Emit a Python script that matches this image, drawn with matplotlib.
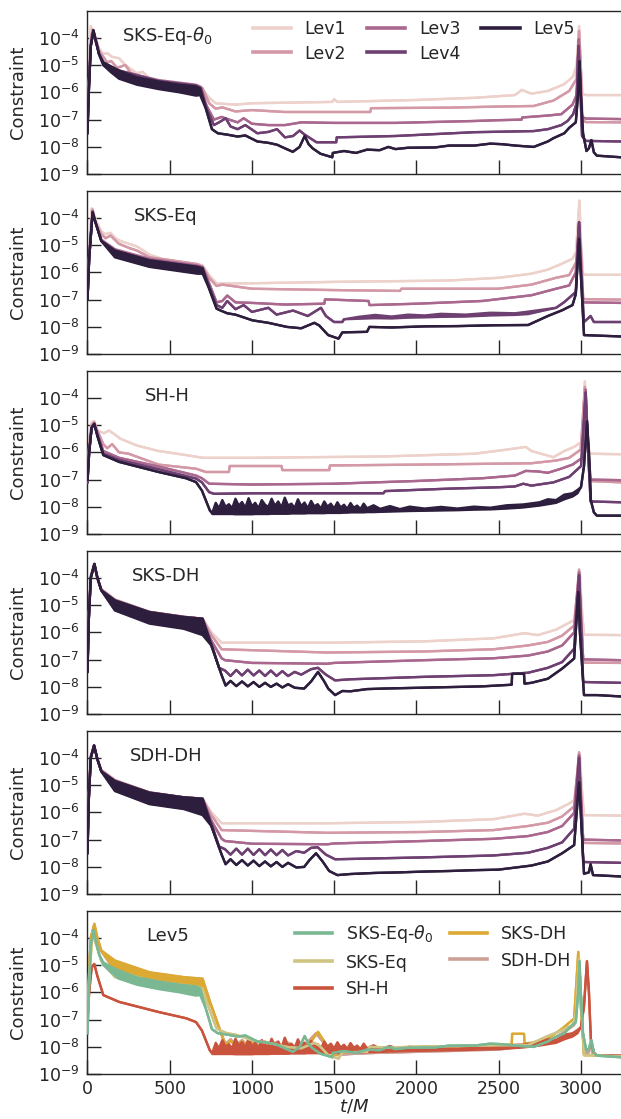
import numpy as np
import matplotlib
matplotlib.use("Agg")
import matplotlib.pyplot as plt
from matplotlib.ticker import LogFormatterMathtext, NullLocator, FixedLocator
import seaborn as sns

# ---------------------------------------------------------------------------
# Data: constraint norm vs. time, stored as (t/M, log10 C) knots.
# A third entry gives the lower edge of a rapidly oscillating / noisy band.
# ---------------------------------------------------------------------------
LEVELS = ["Lev1", "Lev2", "Lev3", "Lev4", "Lev5"]
SCHEMES = ["SKS-Eq-$\\theta_0$", "SKS-Eq", "SH-H", "SKS-DH", "SDH-DH"]
SCHEME_COLORS = ["#7ab894", "#cfc484", "#c9533c", "#dcaa33", "#cda097"]
X_TICKS = [0, 500, 1000, 1500, 2000, 2500, 3000]
Y_TICKS = [1e-9, 1e-8, 1e-7, 1e-6, 1e-5, 1e-4]

# --- SKS-Eq-theta0 ---------------------------------------------------------
sks_eq_theta0_lev1 = [(0, -7.0), (8, -5.6), (19, -3.57), (35, -3.8), (50, -4.2), (72, -4.4), (96, -4.6),
                      (120, -4.56), (150, -4.7), (192, -4.75), (230, -5.0), (264, -5.15), (300, -5.3),
                      (336, -5.25), (384, -5.55), (432, -5.6), (500, -5.7), (660, -5.8), (700, -5.9),
                      (740, -6.2), (780, -6.4), (900, -6.45), (1000, -6.4), (1490, -6.35), (1500, -6.25),
                      (1520, -6.35), (2000, -6.28), (2354, -6.2), (2600, -6.1), (2642, -5.91), (2700, -6.05),
                      (2800, -5.95), (2900, -5.7), (2954, -5.42), (2975, -5.0), (2990, -3.57), (3000, -5.0),
                      (3010, -6.05), (3030, -6.1), (3245, -6.1)]
sks_eq_theta0_lev2 = [(0, -7.2), (8, -5.7), (20, -4.2), (30, -3.7), (50, -4.0), (72, -4.5), (96, -4.7),
                      (120, -4.9), (144, -4.85), (180, -5.1), (230, -5.0), (264, -5.3), (336, -5.45),
                      (384, -5.6), (432, -5.6), (660, -5.75), (700, -5.85), (740, -6.4), (780, -6.6),
                      (820, -6.55), (900, -6.7), (1000, -6.65), (1200, -6.72), (1720, -6.72), (1725, -6.58),
                      (2200, -6.56), (2500, -6.52), (2714, -6.5), (2834, -6.3), (2930, -5.95), (2975, -5.5),
                      (2990, -3.75), (3000, -5.0), (3010, -7.0), (3030, -7.09), (3245, -7.1)]
sks_eq_theta0_lev3 = [(0, -7.3), (8, -5.8), (20, -4.3), (30, -3.8), (50, -4.1), (70, -4.55), (96, -4.9),
                      (192, -5.2, -5.4), (432, -5.55, -5.8), (660, -5.72, -5.95), (690, -5.8, -6.0),
                      (725, -6.5), (769, -7.0), (817, -6.9), (841, -6.96), (913, -7.1), (950, -6.95),
                      (1000, -7.15), (1100, -7.2), (1201, -7.2), (1300, -7.1), (1500, -7.12), (1873, -7.12),
                      (2354, -7.05), (2500, -7.02), (2640, -7.0), (2645, -6.92), (2800, -6.85), (2882, -6.8),
                      (2950, -6.45), (2975, -6.1), (2988, -4.06), (2998, -5.5), (3008, -6.9), (3030, -6.96),
                      (3245, -6.98)]
sks_eq_theta0_lev4 = [(0, -7.4), (8, -5.9), (20, -4.3), (36, -3.75), (50, -4.1), (70, -4.6),
                      (96, -4.9, -5.0), (192, -5.2, -5.45), (432, -5.58, -5.85), (660, -5.75, -6.05),
                      (690, -5.85, -6.05), (725, -6.6), (769, -7.2), (800, -7.1), (841, -6.95), (870, -7.25),
                      (913, -7.35), (960, -7.2), (1033, -7.5), (1100, -7.45), (1153, -7.35), (1201, -7.65),
                      (1250, -7.6), (1290, -7.4), (1321, -7.55), (1393, -7.83), (1513, -7.83), (1516, -7.65),
                      (1873, -7.6), (2354, -7.46), (2714, -7.42), (2800, -7.35), (2882, -7.2), (2920, -7.05),
                      (2954, -6.8), (2975, -6.4), (2986, -4.3), (2995, -5.5), (3008, -7.6), (3030, -7.78),
                      (3245, -7.8)]
sks_eq_theta0_lev5 = [(0, -7.5), (8, -6.0), (20, -4.3), (36, -3.72), (50, -4.1), (70, -4.6), (96, -4.9, -5.0),
                      (140, -5.05, -5.25), (192, -5.2, -5.5), (300, -5.45, -5.72), (432, -5.6, -5.88),
                      (560, -5.72, -6.0), (660, -5.78, -6.12), (685, -5.85, -6.1), (720, -6.6), (757, -7.35),
                      (793, -7.5), (850, -7.55), (913, -7.62), (960, -7.58), (1033, -7.8), (1100, -7.85),
                      (1153, -7.92), (1200, -8.05), (1249, -8.18), (1290, -8.0), (1321, -7.6), (1345, -7.9),
                      (1369, -8.05), (1417, -8.25), (1489, -8.38), (1492, -8.22), (1560, -8.15), (1633, -8.22),
                      (1700, -8.1), (1777, -8.12), (1830, -8.0), (1873, -8.08), (1950, -8.03), (2114, -8.02),
                      (2200, -7.95), (2354, -7.95), (2450, -7.88), (2522, -7.9), (2600, -7.95), (2714, -8.0),
                      (2800, -7.8), (2834, -7.68), (2900, -7.5), (2930, -7.3), (2970, -7.1), (2985, -6.0),
                      (2993, -4.86), (3000, -6.0), (3014, -7.5), (3035, -8.15), (3050, -8.05), (3065, -7.75),
                      (3080, -8.2), (3098, -8.32), (3245, -8.38)]

# --- SKS-Eq ------------------------------------------------------------------
sks_eq_lev1 = [(0, -6.8), (10, -5.3), (25, -3.65), (45, -4.0), (84, -4.5), (110, -4.6), (140, -4.55),
               (170, -4.75), (200, -4.85), (250, -4.95), (300, -5.05), (340, -5.2), (377, -5.35), (450, -5.5),
               (669, -5.7), (700, -5.75), (740, -6.1), (785, -6.41), (1000, -6.4), (1500, -6.35),
               (2200, -6.3), (2500, -6.2), (2700, -6.05), (2800, -5.9), (2887, -5.68), (2950, -5.5),
               (2971, -5.26), (2992, -3.37), (3002, -5.0), (3015, -6.09), (3245, -6.09)]
sks_eq_lev2 = [(0, -6.9), (10, -5.4), (31, -3.7), (50, -4.2), (84, -4.6), (110, -4.75), (140, -4.65),
               (190, -4.95), (250, -5.1), (300, -5.2), (377, -5.45), (669, -5.7), (700, -5.8), (740, -6.2),
               (785, -6.5), (820, -6.45), (1000, -6.6), (1500, -6.65), (1900, -6.68), (1910, -6.6),
               (2500, -6.6), (2700, -6.45), (2850, -6.2), (2930, -6.1), (2975, -5.6), (2990, -4.16),
               (3000, -5.0), (3015, -6.98), (3245, -7.0)]
sks_eq_lev3 = [(0, -7.0), (10, -5.5), (31, -3.75), (45, -4.1), (84, -4.8), (167, -5.15, -5.38),
               (377, -5.5, -5.75), (669, -5.75, -5.98), (700, -5.8), (740, -6.4), (785, -7.1), (820, -7.05),
               (850, -6.85), (900, -7.1), (1000, -7.12), (1200, -7.18), (1440, -7.15), (1445, -6.99),
               (1710, -7.05), (1715, -7.2), (2000, -7.15), (2400, -7.05), (2700, -6.84), (2850, -6.6),
               (2930, -6.48), (2970, -6.0), (2990, -4.16), (3000, -5.5), (3015, -7.1), (3245, -7.12)]
sks_eq_lev4 = [(0, -7.0), (10, -5.5), (31, -3.8), (45, -4.1), (84, -4.85), (167, -5.2, -5.42),
               (377, -5.55, -5.78), (669, -5.78, -6.0), (700, -5.85, -6.0), (740, -6.5), (785, -7.2),
               (820, -7.3), (850, -7.05), (900, -7.35), (950, -7.2), (1000, -7.45), (1100, -7.3),
               (1150, -7.55), (1250, -7.4), (1340, -7.6), (1420, -7.3), (1450, -7.6), (1500, -7.82),
               (1550, -7.82), (1560, -7.72), (1650, -7.63, -7.7), (1750, -7.56, -7.68), (1850, -7.62, -7.69),
               (1950, -7.55, -7.66), (2050, -7.58, -7.65), (2150, -7.52, -7.63), (2300, -7.55, -7.62),
               (2450, -7.48, -7.58), (2600, -7.5, -7.56), (2680, -7.44, -7.53), (2850, -7.3), (2900, -7.09),
               (2970, -6.72), (2990, -4.16), (3000, -5.8), (3020, -7.82), (3060, -7.6), (3080, -7.82),
               (3245, -7.82)]
sks_eq_lev5 = [(0, -7.0), (10, -5.5), (31, -3.8), (45, -4.1), (84, -4.85), (167, -5.2, -5.45),
               (377, -5.56, -5.8), (669, -5.8, -6.05), (700, -5.85, -6.05), (740, -6.6), (785, -7.33),
               (810, -7.4), (850, -7.5), (900, -7.55), (1004, -7.76), (1100, -7.85), (1213, -8.0),
               (1300, -8.05), (1380, -7.85), (1410, -7.95), (1464, -8.3), (1527, -8.43), (1550, -8.2),
               (1700, -8.18), (1715, -8.0), (1850, -8.02), (2050, -7.98), (2250, -7.97), (2470, -7.94),
               (2680, -7.93), (2800, -7.6), (2887, -7.39), (2950, -7.2), (2970, -6.8), (2990, -4.77),
               (3000, -6.0), (3020, -8.3), (3245, -8.35)]

# --- SH-H ----------------------------------------------------------------------
sh_h_lev1 = [(0, -6.8), (10, -5.6), (25, -4.9), (41, -4.85), (60, -5.2), (100, -5.3), (130, -5.2),
             (168, -5.35), (200, -5.5), (240, -5.6), (300, -5.75), (432, -5.95), (600, -6.1), (700, -6.2),
             (1000, -6.2), (1800, -6.15), (2354, -6.05), (2550, -5.9), (2666, -5.8), (2700, -5.95),
             (2834, -6.18), (2900, -5.95), (2960, -5.8), (3010, -5.6), (3025, -3.4), (3040, -5.5),
             (3055, -6.05), (3245, -6.07)]
sh_h_lev2 = [(0, -6.9), (10, -5.8), (25, -5.0), (41, -4.9), (60, -5.2), (96, -5.7), (120, -5.85),
             (150, -5.7), (192, -6.0), (250, -6.05), (432, -6.45), (660, -6.6), (720, -6.72), (860, -6.72),
             (865, -6.5), (1180, -6.5), (1185, -6.65), (1470, -6.65), (1475, -6.48), (2000, -6.45),
             (2700, -6.4), (2850, -6.3), (2930, -6.2), (3000, -5.9), (3025, -3.6), (3040, -5.5),
             (3055, -7.05), (3245, -7.1)]
sh_h_lev3 = [(0, -7.1), (10, -6.0), (25, -5.1), (41, -4.95), (60, -5.3), (96, -5.95), (192, -6.2),
             (432, -6.52), (660, -6.85), (696, -6.95), (740, -7.15), (1000, -7.18), (1500, -7.15),
             (2000, -7.05), (2400, -6.95), (2600, -6.85), (2666, -6.68), (2740, -6.7), (2800, -6.75),
             (2880, -6.6), (2950, -6.45), (3010, -6.2), (3030, -3.7), (3045, -5.8), (3060, -7.0),
             (3245, -7.02)]
sh_h_lev4 = [(0, -7.1), (10, -6.0), (25, -5.1), (41, -4.95), (60, -5.35), (96, -6.05), (192, -6.28),
             (432, -6.62), (660, -6.96), (696, -7.1), (740, -7.46), (770, -7.52), (1000, -7.5),
             (1800, -7.5), (1810, -7.42), (2200, -7.33), (2500, -7.28), (2600, -7.25), (2650, -7.15),
             (2700, -7.22), (2834, -7.1), (2930, -6.9), (3002, -6.5), (3030, -3.81), (3045, -6.0),
             (3060, -7.8), (3245, -7.83)]
sh_h_lev5 = [(0, -7.0), (10, -6.0), (25, -5.1), (41, -4.96), (60, -5.4), (96, -6.1), (192, -6.35),
             (432, -6.72), (600, -6.95), (660, -7.09), (696, -7.4), (745, -8.14), (760, -8.2, -8.26),
             (780, -7.85, -8.26), (800, -8.05, -8.26), (820, -7.75, -8.26), (840, -8.0, -8.26),
             (860, -7.9, -8.26), (880, -8.05, -8.26), (900, -7.7, -8.27), (920, -7.95, -8.27),
             (940, -7.82, -8.27), (960, -8.03, -8.27), (980, -7.68, -8.27), (1000, -7.98, -8.27),
             (1020, -7.85, -8.26), (1040, -8.05, -8.26), (1060, -7.75, -8.26), (1080, -7.92, -8.26),
             (1100, -8.0, -8.26), (1120, -7.7, -8.25), (1140, -7.96, -8.25), (1160, -7.8, -8.25),
             (1180, -8.02, -8.25), (1200, -7.66, -8.25), (1220, -7.95, -8.25), (1240, -7.88, -8.24),
             (1260, -8.04, -8.24), (1280, -7.72, -8.24), (1300, -7.97, -8.24), (1320, -7.84, -8.24),
             (1340, -8.05, -8.23), (1360, -7.78, -8.23), (1380, -7.98, -8.23), (1400, -7.9, -8.23),
             (1420, -8.06, -8.23), (1440, -7.8, -8.23), (1460, -7.99, -8.22), (1480, -7.88, -8.22),
             (1500, -8.06, -8.22), (1520, -7.83, -8.22), (1540, -8.02, -8.22), (1560, -7.92, -8.21),
             (1580, -8.07, -8.21), (1600, -7.86, -8.2), (1620, -8.03, -8.2), (1640, -7.95, -8.2),
             (1660, -8.08, -8.2), (1680, -7.88, -8.2), (1700, -8.05, -8.19), (1740, -7.94, -8.19),
             (1780, -8.07, -8.18), (1840, -7.97, -8.17), (1900, -8.08, -8.16), (1960, -7.99, -8.15),
             (2050, -8.06, -8.14), (2150, -8.0, -8.13), (2250, -8.06, -8.12), (2350, -7.99, -8.1),
             (2450, -8.03, -8.09), (2550, -7.94, -8.06), (2650, -7.91, -8.02), (2750, -7.83, -7.95),
             (2800, -7.72, -7.9), (2850, -7.75, -7.85), (2900, -7.55, -7.72), (2950, -7.5, -7.62),
             (2980, -7.38, -7.5), (3002, -7.27), (3020, -6.5), (3038, -4.86), (3050, -6.0), (3062, -7.77),
             (3080, -8.2), (3098, -8.32), (3245, -8.32)]

# --- SKS-DH --------------------------------------------------------------------
sks_dh_lev1 = [(0, -7.1), (8, -5.3), (20, -3.9), (40, -3.5), (60, -4.0), (84, -4.42), (167, -4.8),
               (377, -5.25), (586, -5.43), (700, -5.5), (753, -6.0), (816, -6.38), (1460, -6.38),
               (2050, -6.33), (2470, -6.22), (2657, -6.03), (2740, -6.1), (2850, -5.9), (2929, -5.65),
               (2960, -5.55), (2995, -3.8), (3005, -5.0), (3020, -6.09), (3245, -6.1)]
sks_dh_lev2 = [(0, -7.2), (8, -5.4), (20, -3.95), (42, -3.5), (60, -4.0), (84, -4.42), (167, -4.8),
               (377, -5.25), (586, -5.43), (700, -5.5), (753, -6.1), (816, -6.62), (1460, -6.74),
               (2050, -6.7), (2470, -6.62), (2680, -6.48), (2800, -6.35), (2887, -6.12), (2960, -5.75),
               (2990, -3.7), (3000, -5.0), (3015, -7.11), (3245, -7.12)]
sks_dh_lev3 = [(0, -7.3), (8, -5.5), (20, -4.0), (42, -3.5), (60, -4.0), (84, -4.45), (167, -4.83, -5.15),
               (377, -5.25, -5.62), (586, -5.43, -5.82), (700, -5.5, -6.0), (753, -6.3), (816, -6.95),
               (836, -7.02), (1000, -7.12), (1460, -7.15), (1500, -7.12), (2050, -7.02), (2470, -6.95),
               (2680, -6.85), (2800, -6.7), (2887, -6.48), (2960, -6.0), (2990, -3.8), (3000, -5.3),
               (3015, -6.99), (3245, -7.02)]
sks_dh_lev4 = [(0, -7.4), (8, -5.5), (20, -4.0), (42, -3.5), (60, -4.0), (84, -4.46), (167, -4.83, -5.18),
               (377, -5.26, -5.65), (586, -5.44, -5.85), (700, -5.5, -6.05), (753, -6.4), (800, -7.3),
               (836, -7.4), (870, -7.6), (905, -7.38), (940, -7.58), (975, -7.37), (1010, -7.58),
               (1045, -7.4), (1080, -7.6), (1115, -7.4), (1150, -7.6), (1185, -7.42), (1220, -7.6),
               (1260, -7.45), (1300, -7.55), (1360, -7.35), (1402, -7.3), (1450, -7.55), (1506, -7.76),
               (1600, -7.72), (2050, -7.63), (2470, -7.57), (2680, -7.48), (2800, -7.3), (2887, -7.09),
               (2960, -6.6), (2990, -3.9), (3000, -5.5), (3015, -7.82), (3245, -7.85)]
sks_dh_lev5 = [(0, -7.45), (8, -5.5), (20, -4.0), (42, -3.49), (60, -4.0), (84, -4.46), (167, -4.83, -5.2),
               (377, -5.26, -5.68), (586, -5.44, -5.87), (700, -5.5, -6.1), (753, -6.48), (816, -7.57),
               (840, -7.95), (870, -7.78), (905, -7.97), (940, -7.8), (975, -7.98), (1010, -7.82),
               (1045, -8.0), (1080, -7.85), (1115, -8.0), (1150, -7.88), (1185, -8.02), (1220, -7.9),
               (1260, -8.03), (1318, -8.06), (1360, -7.8), (1402, -7.45), (1440, -7.8), (1464, -8.06),
               (1506, -8.3), (1550, -8.15), (1600, -8.16), (1700, -8.08), (1800, -8.06), (1950, -8.04),
               (2100, -8.02), (2250, -8.0), (2400, -7.98), (2580, -7.92), (2583, -7.52), (2655, -7.52),
               (2658, -7.88), (2700, -7.85), (2800, -7.7), (2887, -7.33), (2960, -6.96), (2985, -4.52),
               (2995, -6.0), (3020, -8.3), (3100, -8.3), (3245, -8.35)]

# --- SDH-DH --------------------------------------------------------------------
sdh_dh_lev1 = [(0, -7.1), (8, -5.3), (20, -3.9), (40, -3.55), (60, -4.05), (84, -4.45), (167, -4.82),
               (377, -5.27), (586, -5.45), (700, -5.5), (753, -6.0), (816, -6.4), (1460, -6.4),
               (2050, -6.35), (2470, -6.25), (2657, -6.05), (2740, -6.12), (2850, -5.92), (2929, -5.68),
               (2960, -5.55), (2995, -3.9), (3005, -5.0), (3020, -6.1), (3245, -6.12)]
sdh_dh_lev2 = [(0, -7.2), (8, -5.4), (20, -3.95), (40, -3.55), (60, -4.05), (84, -4.45), (167, -4.82),
               (377, -5.27), (586, -5.45), (700, -5.5), (753, -6.1), (816, -6.65), (1460, -6.75),
               (2050, -6.72), (2470, -6.65), (2680, -6.5), (2800, -6.38), (2887, -6.15), (2960, -5.78),
               (2990, -3.8), (3000, -5.0), (3015, -7.12), (3245, -7.14)]
sdh_dh_lev3 = [(0, -7.3), (8, -5.5), (20, -4.0), (40, -3.55), (60, -4.05), (84, -4.48), (167, -4.85, -5.17),
               (377, -5.27, -5.64), (586, -5.45, -5.84), (700, -5.5, -6.0), (753, -6.3), (816, -6.97),
               (836, -7.05), (1000, -7.15), (1460, -7.17), (1500, -7.14), (2050, -7.05), (2470, -6.97),
               (2680, -6.87), (2800, -6.72), (2887, -6.5), (2960, -6.02), (2990, -3.9), (3000, -5.3),
               (3015, -7.0), (3245, -7.03)]
sdh_dh_lev4 = [(0, -7.4), (8, -5.5), (20, -4.0), (40, -3.55), (60, -4.05), (84, -4.5), (167, -4.85, -5.2),
               (377, -5.28, -5.68), (586, -5.45, -5.86), (700, -5.5, -6.05), (753, -6.4), (800, -7.25),
               (836, -7.35), (870, -7.55), (905, -7.33), (940, -7.55), (975, -7.33), (1010, -7.56),
               (1045, -7.35), (1080, -7.57), (1115, -7.36), (1150, -7.57), (1185, -7.38), (1220, -7.58),
               (1270, -7.42), (1318, -7.48), (1360, -7.3), (1400, -7.28), (1450, -7.55), (1506, -7.72),
               (2050, -7.65), (2470, -7.58), (2680, -7.48), (2800, -7.3), (2887, -7.1), (2960, -6.6),
               (2990, -4.0), (3000, -5.5), (3015, -7.82), (3245, -7.85)]
sdh_dh_lev5 = [(0, -7.5), (8, -5.5), (20, -4.0), (40, -3.55), (60, -4.05), (84, -4.5), (167, -4.85, -5.22),
               (377, -5.28, -5.7), (586, -5.45, -5.88), (700, -5.5, -6.1), (753, -6.5), (816, -7.55),
               (840, -7.9), (870, -7.72), (905, -7.93), (940, -7.75), (975, -7.95), (1010, -7.77),
               (1045, -7.97), (1080, -7.8), (1115, -7.98), (1150, -7.82), (1185, -8.0), (1220, -7.85),
               (1270, -8.02), (1318, -8.0), (1350, -7.75), (1390, -7.5), (1430, -7.8), (1470, -8.15),
               (1520, -8.3), (1600, -8.26), (1750, -8.22), (1900, -8.2), (2050, -8.17), (2200, -8.15),
               (2350, -8.12), (2500, -8.1), (2700, -7.95), (2800, -7.8), (2887, -7.5), (2960, -7.2),
               (2990, -4.9), (3000, -6.0), (3020, -8.25), (3050, -8.2), (3060, -7.9), (3075, -8.3),
               (3245, -8.35)]

PANELS = [
    [sks_eq_theta0_lev1, sks_eq_theta0_lev2, sks_eq_theta0_lev3, sks_eq_theta0_lev4, sks_eq_theta0_lev5],
    [sks_eq_lev1, sks_eq_lev2, sks_eq_lev3, sks_eq_lev4, sks_eq_lev5],
    [sh_h_lev1, sh_h_lev2, sh_h_lev3, sh_h_lev4, sh_h_lev5],
    [sks_dh_lev1, sks_dh_lev2, sks_dh_lev3, sks_dh_lev4, sks_dh_lev5],
    [sdh_dh_lev1, sdh_dh_lev2, sdh_dh_lev3, sdh_dh_lev4, sdh_dh_lev5],
]
PANEL_LABEL_X = [0.064, 0.087, 0.108, 0.084, 0.080, 0.110]
PANEL_LABELS = SCHEMES + ["Lev5"]

LEV_COLORS = sns.cubehelix_palette(len(LEVELS))

plt.rcParams["font.family"] = ["DejaVu Sans"]
plt.rcParams["mathtext.fontset"] = "dejavusans"
INK = "#262626"

W, H = 621, 1119
fig = plt.figure(figsize=(W / 100, H / 100), dpi=100)

LEFT_PX, TOP0_PX, STEP_PX, AX_H_PX = 87.5, 10.5, 180.0, 163.7
X_MAX = 3245


def draw_trace(ax, pts, color, lw, z):
    t = np.array([p[0] for p in pts], dtype=float)
    hi = np.array([p[1] for p in pts], dtype=float)
    lo = np.array([p[2] if len(p) > 2 else p[1] for p in pts], dtype=float)
    ax.fill_between(t, 10 ** lo, 10 ** hi, color=color, lw=0, zorder=z)
    ax.plot(t, 10 ** lo, color=color, lw=lw, zorder=z, solid_joinstyle="round")
    ax.plot(t, 10 ** hi, color=color, lw=lw, zorder=z, solid_joinstyle="round")


axes = []
for k in range(6):
    top = TOP0_PX + STEP_PX * k
    ax = fig.add_axes([LEFT_PX / W, 1 - (top + AX_H_PX) / H, (W - LEFT_PX) / W, AX_H_PX / H])
    ax.set_yscale("log")
    ax.set_xlim(0, X_MAX)
    ax.set_ylim(1e-9, 1e-3)
    ax.yaxis.set_major_locator(FixedLocator(Y_TICKS))
    ax.yaxis.set_major_formatter(LogFormatterMathtext())
    ax.yaxis.set_minor_locator(NullLocator())
    ax.xaxis.set_major_locator(FixedLocator(X_TICKS))
    ax.tick_params(direction="in", length=10, width=1.0, color=INK, labelcolor=INK,
                   labelsize=12.5, pad=6)
    ax.tick_params(axis="x", pad=4)
    for side in ("left", "bottom", "top"):
        ax.spines[side].set_color(INK)
        ax.spines[side].set_linewidth(1.0)
    ax.spines["right"].set_visible(False)
    ax.set_ylabel("Constraint", fontsize=13, color=INK, labelpad=8)
    if k < 5:
        ax.tick_params(labelbottom=False)
    ax.text(PANEL_LABEL_X[k], 0.845, PANEL_LABELS[k], transform=ax.transAxes,
            fontsize=13, color=INK, ha="left", va="center")
    axes.append(ax)

# Resolution convergence panels
for k, series in enumerate(PANELS):
    ax = axes[k]
    for i, pts in enumerate(series):
        draw_trace(ax, pts, LEV_COLORS[i], 1.7, 2 + i)

handles = [plt.Line2D([], [], color=c, lw=2.6) for c in LEV_COLORS]
axes[0].legend(handles, LEVELS, ncol=3, frameon=False, fontsize=12.5, loc="upper left",
               bbox_to_anchor=(0.28, 1.04), handlelength=2.2, handletextpad=0.8,
               columnspacing=1.2, labelspacing=0.4, labelcolor=INK)

# Highest-resolution comparison across formulations
ax = axes[5]
for j in reversed(range(len(SCHEMES))):
    draw_trace(ax, PANELS[j][4], SCHEME_COLORS[j], 1.7, 2 + (4 - j))
scheme_handles = [plt.Line2D([], [], color=c, lw=2.6) for c in SCHEME_COLORS]
ax.legend(scheme_handles, SCHEMES, ncol=2, frameon=False, fontsize=12.5, loc="upper left",
          bbox_to_anchor=(0.36, 1.02), handlelength=2.1, handletextpad=0.8,
          columnspacing=1.0, labelspacing=0.5, labelcolor=INK)
ax.set_xlabel("$t/M$", fontsize=13, color=INK, labelpad=0)

fig.savefig("out.png", dpi=100)
